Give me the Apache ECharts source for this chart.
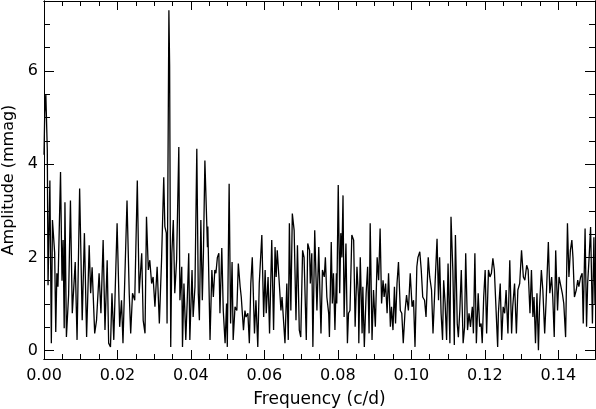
<!DOCTYPE html>
<html>
<head>
<meta charset="utf-8">
<script src="https://cdn.jsdelivr.net/npm/echarts@6/dist/echarts.min.js"></script>
<style>
  html, body { margin: 0; padding: 0; background: #fff; }
  #chart { width: 596px; height: 409px; }
</style>
</head>
<body>
<div id="chart"></div>
<script>
// amplitude spectrum (peaks and troughs)
var freq = [
  0.0000, 0.0002, 0.0005, 0.0009, 0.0011, 0.0016, 0.0020, 0.0023, 0.0029, 0.0032,
  0.0035, 0.0038, 0.0045, 0.0049, 0.0052, 0.0055, 0.0057, 0.0061, 0.0067, 0.0072,
  0.0077, 0.0085, 0.0090, 0.0097, 0.0104, 0.0110, 0.0116, 0.0123, 0.0127, 0.0131,
  0.0138, 0.0143, 0.0150, 0.0155, 0.0161, 0.0166, 0.0172, 0.0176, 0.0181, 0.0185,
  0.0190, 0.0199, 0.0206, 0.0211, 0.0215, 0.0226, 0.0232, 0.0236, 0.0241, 0.0247,
  0.0254, 0.0259, 0.0266, 0.0270, 0.0275, 0.0279, 0.0284, 0.0288, 0.0293, 0.0297,
  0.0302, 0.0308, 0.0314, 0.0320, 0.0326, 0.0329, 0.0333, 0.0335, 0.0340, 0.0342,
  0.0345, 0.0348, 0.0352, 0.0356, 0.0361, 0.0367, 0.0370, 0.0375, 0.0377, 0.0381,
  0.0386, 0.0390, 0.0394, 0.0397, 0.0403, 0.0406, 0.0411, 0.0416, 0.0420, 0.0423,
  0.0427, 0.0431, 0.0434, 0.0438, 0.0445, 0.0446, 0.0452, 0.0457, 0.0461, 0.0465,
  0.0468, 0.0472, 0.0476, 0.0479, 0.0484, 0.0488, 0.0493, 0.0497, 0.0499, 0.0504,
  0.0508, 0.0512, 0.0515, 0.0520, 0.0525, 0.0529, 0.0534, 0.0537, 0.0543, 0.0547,
  0.0550, 0.0555, 0.0559, 0.0563, 0.0567, 0.0573, 0.0577, 0.0582, 0.0586, 0.0593,
  0.0598, 0.0602, 0.0605, 0.0610, 0.0614, 0.0620, 0.0625, 0.0629, 0.0632, 0.0635,
  0.0640, 0.0645, 0.0648, 0.0652, 0.0656, 0.0661, 0.0665, 0.0668, 0.0672, 0.0676,
  0.0681, 0.0686, 0.0690, 0.0695, 0.0699, 0.0704, 0.0708, 0.0714, 0.0718, 0.0723,
  0.0725, 0.0729, 0.0732, 0.0737, 0.0743, 0.0748, 0.0754, 0.0758, 0.0763, 0.0766,
  0.0770, 0.0775, 0.0777, 0.0782, 0.0785, 0.0788, 0.0792, 0.0796, 0.0797, 0.0801,
  0.0805, 0.0808, 0.0811, 0.0814, 0.0817, 0.0822, 0.0826, 0.0829, 0.0833, 0.0838,
  0.0843, 0.0847, 0.0852, 0.0856, 0.0857, 0.0861, 0.0866, 0.0868, 0.0872, 0.0877,
  0.0881, 0.0885, 0.0888, 0.0893, 0.0897, 0.0902, 0.0907, 0.0911, 0.0915, 0.0919,
  0.0923, 0.0926, 0.0930, 0.0934, 0.0938, 0.0943, 0.0946, 0.0950, 0.0954, 0.0957,
  0.0961, 0.0965, 0.0970, 0.0974, 0.0978, 0.0983, 0.0987, 0.0992, 0.0997, 0.1002,
  0.1006, 0.1010, 0.1015, 0.1018, 0.1023, 0.1027, 0.1031, 0.1036, 0.1040, 0.1046,
  0.1050, 0.1055, 0.1059, 0.1065, 0.1070, 0.1074, 0.1077, 0.1081, 0.1085, 0.1088,
  0.1092, 0.1096, 0.1100, 0.1105, 0.1108, 0.1113, 0.1117, 0.1120, 0.1125, 0.1128,
  0.1132, 0.1136, 0.1141, 0.1145, 0.1148, 0.1153, 0.1157, 0.1161, 0.1166, 0.1169,
  0.1173, 0.1177, 0.1182, 0.1186, 0.1190, 0.1193, 0.1197, 0.1201, 0.1205, 0.1210,
  0.1214, 0.1218, 0.1222, 0.1226, 0.1230, 0.1235, 0.1237, 0.1242, 0.1246, 0.1250,
  0.1254, 0.1258, 0.1263, 0.1268, 0.1273, 0.1276, 0.1281, 0.1286, 0.1290, 0.1295,
  0.1300, 0.1305, 0.1309, 0.1314, 0.1318, 0.1323, 0.1327, 0.1331, 0.1334, 0.1338,
  0.1342, 0.1346, 0.1349, 0.1354, 0.1358, 0.1363, 0.1367, 0.1373, 0.1377, 0.1382,
  0.1385, 0.1389, 0.1393, 0.1398, 0.1402, 0.1406, 0.1411, 0.1415, 0.1420, 0.1425,
  0.1429, 0.1433, 0.1437, 0.1440, 0.1444, 0.1449, 0.1453, 0.1456, 0.1461, 0.1465,
  0.1468, 0.1473, 0.1477, 0.1480, 0.1484, 0.1488, 0.1493, 0.1497, 0.1500
];
var amp = [
  4.2, 5.1, 5.5, 4.3, 1.4, 3.65, 0.16, 2.8, 2.1, 0.4,
  1.66, 1.37, 3.83, 1.5, 2.37, 0.48, 3.18, 0.29, 1.2, 3.22,
  0.8, 1.9, 0.23, 3.48, 0.65, 2.52, 0.29, 2.26, 1.23, 1.79,
  0.37, 0.65, 1.66, 0.8, 2.37, 0.44, 1.94, 0.16, 0.08, 1.23,
  0.23, 2.73, 0.51, 1.08, 0.16, 3.22, 1.23, 0.37, 1.23, 1.08,
  3.65, 1.23, 2.09, 0.65, 0.37, 2.87, 1.73, 1.94, 1.44, 1.58,
  0.94, 1.8, 0.58, 1.94, 3.72, 2.66, 2.52, 0.58, 7.3, 6.1,
  0.08, 2.09, 2.8, 1.23, 1.94, 4.37, 1.08, 1.8, 0.08, 1.44,
  0.23, 1.08, 2.09, 0.23, 1.73, 0.72, 1.37, 4.33, 1.23, 0.65,
  2.8, 1.08, 2.09, 4.08, 2.22, 2.66, 0.23, 1.73, 1.15, 1.73,
  1.66, 2.0, 2.09, 0.8, 2.2, 0.86, 0.16, 1.01, 0.08, 3.58,
  0.58, 1.9, 0.23, 0.94, 0.86, 1.87, 1.37, 1.15, 0.44, 0.86,
  0.72, 0.8, 0.16, 1.44, 2.0, 0.37, 1.08, 0.08, 1.44, 2.48,
  0.72, 1.73, 0.8, 1.58, 0.37, 2.37, 0.44, 2.22, 1.58, 2.15,
  1.51, 0.86, 1.15, 1.15, 0.16, 1.44, 0.23, 2.73, 0.86, 2.94,
  2.58, 0.65, 2.26, 0.44, 0.29, 2.15, 2.0, 0.23, 2.3, 2.15,
  1.44, 2.09, 0.08, 2.58, 0.86, 2.22, 0.37, 1.73, 1.58, 2.0,
  1.15, 0.8, 0.29, 2.33, 1.01, 1.66, 0.44, 1.66, 1.01, 3.55,
  1.23, 2.52, 2.0, 3.33, 0.72, 2.3, 0.16, 0.8, 0.86, 2.48,
  2.37, 0.51, 1.8, 1.15, 0.16, 2.0, 0.37, 1.37, 0.08, 1.23,
  1.8, 0.37, 2.73, 0.23, 1.3, 0.51, 2.0, 1.51, 2.62, 1.01,
  1.51, 1.15, 1.44, 0.8, 1.66, 0.51, 0.94, 0.44, 1.37, 0.58,
  1.44, 1.9, 0.86, 0.8, 0.16, 0.86, 1.19, 0.86, 1.66, 0.94,
  1.08, 0.08, 1.8, 2.0, 2.12, 1.73, 1.15, 1.08, 0.72, 2.0,
  1.58, 1.3, 0.37, 1.51, 2.4, 1.08, 2.0, 0.8, 0.23, 1.51,
  1.01, 0.23, 1.87, 0.16, 2.87, 1.73, 0.12, 2.48, 0.58, 0.29,
  0.86, 1.73, 0.16, 0.51, 2.09, 0.44, 0.8, 0.51, 0.94, 0.37,
  2.09, 0.16, 1.23, 0.51, 0.58, 0.16, 1.15, 1.73, 0.37, 1.73,
  1.58, 1.66, 1.98, 1.73, 1.73, 0.08, 0.8, 1.44, 0.23, 0.94,
  0.8, 1.3, 0.37, 1.94, 0.37, 0.94, 1.44, 0.37, 1.3, 1.44,
  2.15, 1.58, 1.51, 1.83, 1.73, 0.8, 1.73, 0.72, 1.15, 0.16,
  1.23, 0.01, 0.94, 1.73, 1.3, 0.37, 1.08, 2.33, 1.23, 1.58,
  1.15, 0.29, 2.15, 0.86, 1.58, 1.58, 1.23, 1.01, 0.29, 2.73,
  1.58, 2.15, 2.37, 2.0, 1.15, 1.3, 1.51, 1.37, 1.58, 1.66,
  0.58, 2.62, 0.51, 1.44, 2.0, 2.65, 0.58, 2.43, 1.0
];

var xTicks = [0, 0.02, 0.04, 0.06, 0.08, 0.10, 0.12, 0.14];
var xMinorTicks = [0, 0.005, 0.01, 0.015, 0.02, 0.025, 0.03, 0.035, 0.04, 0.045, 0.05,
  0.055, 0.06, 0.065, 0.07, 0.075, 0.08, 0.085, 0.09, 0.095, 0.1, 0.105, 0.11,
  0.115, 0.12, 0.125, 0.13, 0.135, 0.14, 0.145];
var yTicks = [0, 2, 4, 6];
var yMinorTicks = [0, 0.5, 1, 1.5, 2, 2.5, 3, 3.5, 4, 4.5, 5, 5.5, 6, 6.5, 7, 7.5];

var X_MIN = 0, X_MAX = 0.15;
var Y_MIN = -0.18, Y_MAX = 7.5;
var FONT = "DejaVu Sans";

function xAxisOf(pos, ticks, len, withLabels) {
    return {
        type: "value", position: pos, min: X_MIN, max: X_MAX,
        name: withLabels ? "Frequency (c/d)" : "",
        nameLocation: "middle", nameGap: 32,
        nameTextStyle: { color: "#000", fontFamily: FONT, fontSize: 17 },
        axisLine: { show: true, onZero: false, lineStyle: { color: "#000", width: 1 } },
        axisTick: { show: true, inside: true, length: len, customValues: ticks,
                    lineStyle: { color: "#000", width: 1 } },
        axisLabel: { show: withLabels, customValues: ticks, margin: 9,
                     color: "#000", fontFamily: FONT, fontSize: 16,
                     formatter: function(v) { return v.toFixed(2); } },
        splitLine: { show: false }
    };
}

function yAxisOf(pos, ticks, len, withLabels) {
    return {
        type: "value", position: pos, min: Y_MIN, max: Y_MAX,
        name: withLabels ? "Amplitude (mmag)" : "",
        nameLocation: "middle", nameGap: 23,
        nameTextStyle: { color: "#000", fontFamily: FONT, fontSize: 16 },
        axisLine: { show: true, onZero: false, lineStyle: { color: "#000", width: 1 } },
        axisTick: { show: true, inside: true, length: len, customValues: ticks,
                    lineStyle: { color: "#000", width: 1 } },
        axisLabel: { show: withLabels, customValues: ticks, margin: 6,
                     color: "#000", fontFamily: FONT, fontSize: 16,
                     formatter: function(v) { return String(Math.round(v)); } },
        splitLine: { show: false }
    };
}

var points = freq.map(function(f, i) { return [f, amp[i]]; });

var option = {
    animation: false,
    backgroundColor: "#fff",
    grid: { left: 44, right: 1, top: 1, bottom: 50, outerBoundsMode: "none" },
    xAxis: [
        xAxisOf("bottom", xTicks, 9, true),
        xAxisOf("bottom", xMinorTicks, 5, false),
        xAxisOf("top", xTicks, 9, false),
        xAxisOf("top", xMinorTicks, 5, false)
    ],
    yAxis: [
        yAxisOf("left", yTicks, 10, true),
        yAxisOf("left", yMinorTicks, 6, false),
        yAxisOf("right", yTicks, 10, false),
        yAxisOf("right", yMinorTicks, 6, false)
    ],
    series: [
        {
            type: "line",
            xAxisIndex: 0,
            yAxisIndex: 0,
            data: points,
            showSymbol: false,
            lineStyle: { color: "#000", width: 1.3 }
        }
    ]
};

echarts.init(document.getElementById("chart")).setOption(option);
</script>
</body>
</html>
